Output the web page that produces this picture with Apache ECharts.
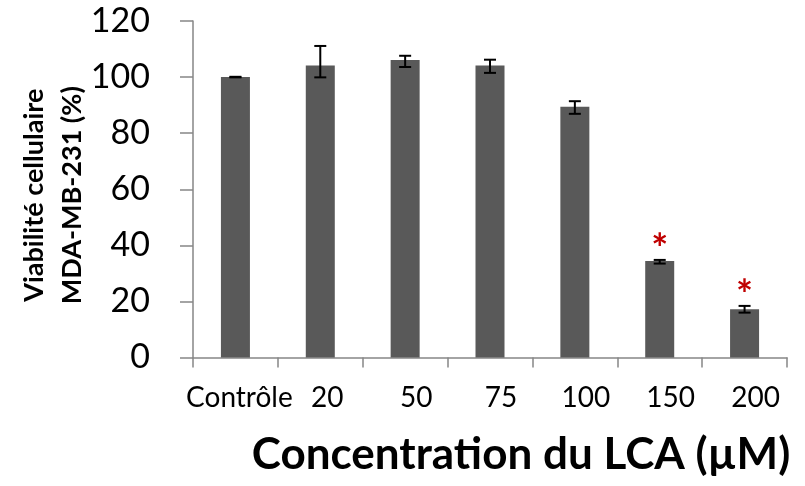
<!DOCTYPE html>
<html>
<head>
<meta charset="utf-8">
<script src="https://cdn.jsdelivr.net/npm/echarts@6/dist/echarts.min.js"></script>
<style>html,body{margin:0;padding:0;background:#fff}#c{width:805px;height:486px}</style>
</head>
<body>
<div id="c"></div>
<script>
var categories = ['Contrôle', '20', '50', '75', '100', '150', '200'];
var viability = [100, 104.1, 106.1, 104.1, 89.4, 34.4, 17.2];
var errUpper = [100.1, 111.1, 107.6, 106.2, 91.4, 34.8, 18.4];
var errLower = [99.9, 99.9, 103.6, 101.5, 86.9, 33.5, 16.0];
var significance = ['', '', '', '', '', '*', '*'];
var yTicks = [0, 20, 40, 60, 80, 100, 120];

var chart = echarts.init(document.getElementById('c'), null, {renderer: 'canvas'});
var FONT = 'Lato';
var errData = categories.map(function (c, i) { return [i, errLower[i], errUpper[i], significance[i]]; });
var labelShift = [8, 14, 22, 22, 22, 22, 22];
var catData = categories.map(function (c, i) {
  return {value: c, textStyle: {padding: [0, 0, 0, labelShift[i]]}};
});

chart.setOption({
  animation: false,
  backgroundColor: '#ffffff',
  grid: {left: 193, right: 18, top: 21, bottom: 128.5, containLabel: false, outerBoundsMode: 'none'},
  xAxis: {
    type: 'category',
    data: catData,
    name: 'Concentration du LCA (µM)',
    nameLocation: 'middle',
    nameGap: 75,
    nameMoveOverlap: false,
    nameTextStyle: {fontFamily: FONT, fontWeight: 'bold', fontSize: 44, color: '#000', padding: [0, 0, 0, 62]},
    axisLine: {lineStyle: {color: '#868686', width: 1.5}},
    axisTick: {show: true, length: 10, inside: false, alignWithLabel: false, lineStyle: {color: '#868686', width: 1.5}},
    axisLabel: {fontFamily: FONT, fontSize: 28, color: '#000', margin: 26, interval: 0}
  },
  yAxis: {
    type: 'value',
    min: 0, max: 120, interval: 20,
    name: 'Viabilité cellulaire\nMDA-MB-231 (%)',
    nameLocation: 'middle',
    nameRotate: 90,
    nameGap: 102,
    nameMoveOverlap: false,
    nameTextStyle: {fontFamily: FONT, fontWeight: 'bold', fontSize: 27, color: '#000', lineHeight: 38, padding: [0, 12, 0, 0]},
    splitLine: {show: false},
    axisLine: {show: true, lineStyle: {color: '#868686', width: 1.5}},
    axisTick: {show: true, length: 13, lineStyle: {color: '#868686', width: 1.5}},
    axisLabel: {fontFamily: FONT, fontSize: 34, color: '#000', margin: 43,
      formatter: function (v) { return yTicks.indexOf(v) >= 0 ? String(v) : ''; }}
  },
  series: [
    {
      type: 'bar',
      data: viability,
      barWidth: 29,
      itemStyle: {color: '#595959'}
    },
    {
      type: 'custom',
      data: errData,
      z: 10,
      renderItem: function (params, api) {
        var i = api.value(0);
        var lo = api.coord([i, api.value(1)]);
        var hi = api.coord([i, api.value(2)]);
        var hw = 6;
        var st = {stroke: '#000', lineWidth: 2};
        var children = [
          {type: 'line', shape: {x1: hi[0], y1: hi[1], x2: lo[0], y2: lo[1]}, style: st},
          {type: 'line', shape: {x1: hi[0] - hw, y1: hi[1], x2: hi[0] + hw, y2: hi[1]}, style: st},
          {type: 'line', shape: {x1: lo[0] - hw, y1: lo[1], x2: lo[0] + hw, y2: lo[1]}, style: st}
        ];
        var sig = significance[params.dataIndex];
        if (sig) {
          children.push({type: 'text', x: hi[0], y: hi[1] - 10,
            style: {text: sig, fill: '#C00000', font: 'bold 40px ' + FONT, align: 'center', verticalAlign: 'middle'}});
        }
        return {type: 'group', children: children};
      }
    }
  ]
});
</script>
</body>
</html>
